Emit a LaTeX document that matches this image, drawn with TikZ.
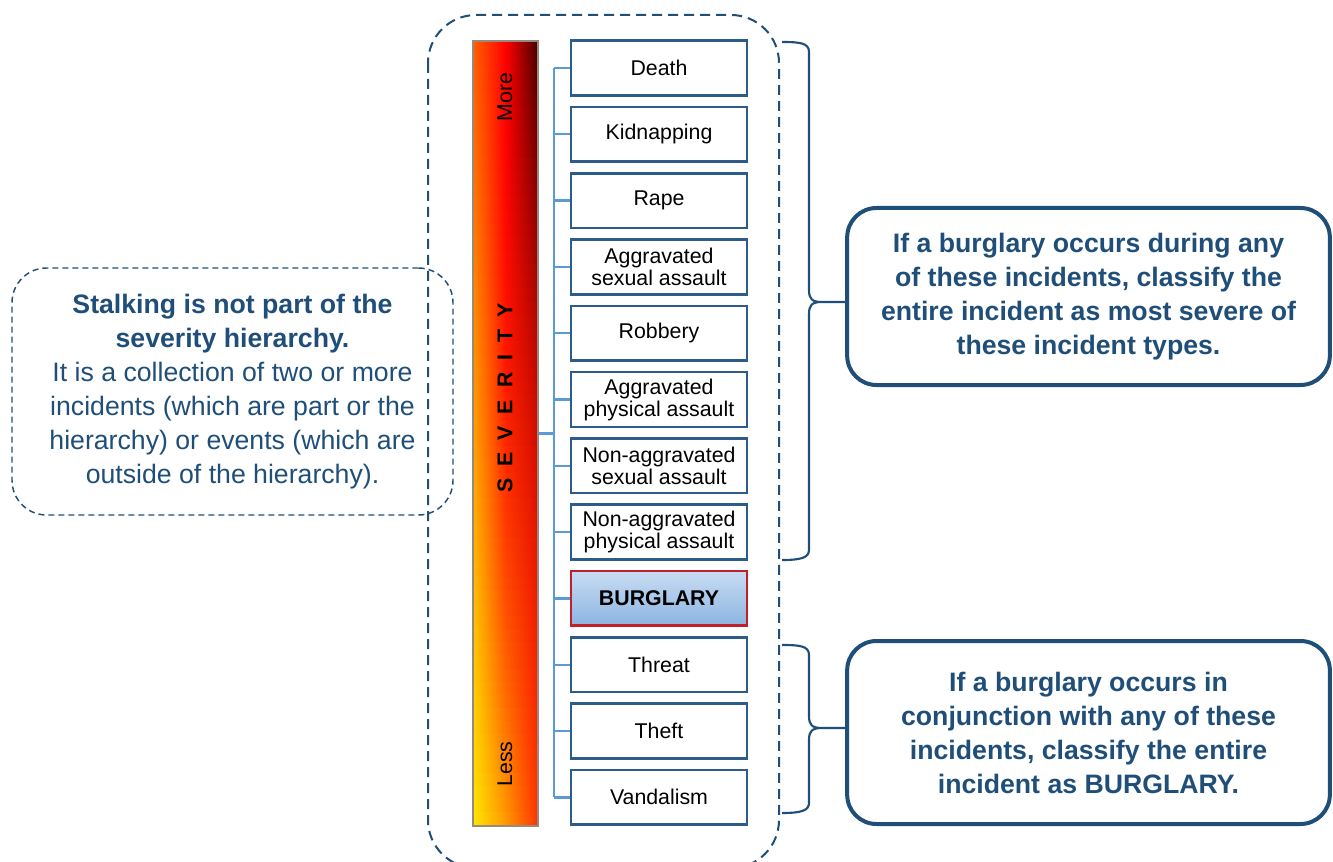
\documentclass[tikz,border=0pt]{standalone}
\usepackage{fontspec}
\setmainfont{Liberation Sans}
\usetikzlibrary{positioning}

\definecolor{navy}{RGB}{31,78,121}
\definecolor{boxedge}{RGB}{46,92,138}
\definecolor{treeblue}{RGB}{91,155,213}
\definecolor{burgtop}{RGB}{200,220,242}
\definecolor{burgbot}{RGB}{140,180,226}
\definecolor{burgred}{RGB}{192,32,44}
\definecolor{barrim}{RGB}{150,138,125}

\newcommand\sevgap{\hspace{9pt}}

\begin{document}
\begin{tikzpicture}[x=0.75pt,y=-0.75pt,
  incident/.style={draw=boxedge,line width=2pt,fill=white,minimum width=132pt,minimum height=41pt,inner sep=0pt,align=center,font=\fontsize{16}{16.5}\selectfont},
  burgbox/.style={incident,draw=burgred,top color=burgtop,bottom color=burgbot,font=\fontsize{16}{16.5}\selectfont\bfseries},
  treeline/.style={draw=treeblue,line width=1.8pt},
  callout/.style={draw=navy,line width=3pt,rounded corners=22pt,minimum width=362pt,align=center,text=navy,font=\fontsize{20}{25.5}\selectfont\bfseries},
  bracebar/.style={draw=navy,line width=1.6pt},
  barlabel/.style={rotate=90,font=\fontsize{16}{18}\selectfont}]

\useasboundingbox (0,0) rectangle (1333,862);

\foreach \i in {0,...,59}{
  \pgfmathsetmacro\t{\i/59}
  \pgfmathtruncatemacro\gl{95+135*\t}
  \pgfmathtruncatemacro\gm{150*\t*\t}
  \pgfmathtruncatemacro\rr{70+185*(1-(1-\t)*(1-\t))}
  \pgfmathtruncatemacro\gr{50*\t*\t}
  \definecolor{stripL}{RGB}{255,\gl,0}
  \definecolor{stripM}{RGB}{255,\gm,0}
  \definecolor{stripR}{RGB}{\rr,\gr,0}
  \shade[left color=stripL,right color=stripR,middle color=stripM] (473,{41+\i*13.0833}) rectangle (538,{41.6+(\i+1)*13.0833});
}
\node[draw=barrim,line width=0.8pt,minimum width=48.75pt,minimum height=588.75pt,inner sep=0pt] (bar) at (505.5,433.5) {};
\node[barlabel] (more) at (505,97) {More};
\node[barlabel] (less) at (505,764) {Less};
\node[barlabel,font=\fontsize{16}{18}\selectfont\bfseries] (sev) at (505,398) {S\sevgap E\sevgap V\sevgap E\sevgap R\sevgap I\sevgap T\sevgap Y};

\draw[navy,line width=1.5pt,dash pattern=on 7.5pt off 4.5pt,rounded corners=36pt] (428,15) rectangle (779,868);

\node[incident] (death) at (659,68) {Death};
\node[incident] (kidnap) at (659,134.3) {Kidnapping};
\node[incident] (rape) at (659,200.6) {Rape};
\node[incident] (aggsex) at (659,266.9) {Aggravated\\sexual assault};
\node[incident] (robbery) at (659,333.2) {Robbery};
\node[incident] (aggphys) at (659,399.5) {Aggravated\\physical assault};
\node[incident] (nonsex) at (659,465.8) {Non-aggravated\\sexual assault};
\node[incident] (nonphys) at (659,532.1) {Non-aggravated\\physical assault};
\node[burgbox] (burglary) at (659,598.4) {BURGLARY};
\node[incident] (threat) at (659,664.7) {Threat};
\node[incident] (theft) at (659,731) {Theft};
\node[incident] (vandal) at (659,797.3) {Vandalism};

\coordinate (hub) at (554,433.5);
\draw[treeline] (bar.east) -- (hub);
\draw[treeline] (death.west -| hub) -- (vandal.west -| hub);
\draw[treeline] (death.west -| hub) -- (death.west);
\draw[treeline] (kidnap.west -| hub) -- (kidnap.west);
\draw[treeline] (rape.west -| hub) -- (rape.west);
\draw[treeline] (aggsex.west -| hub) -- (aggsex.west);
\draw[treeline] (robbery.west -| hub) -- (robbery.west);
\draw[treeline] (aggphys.west -| hub) -- (aggphys.west);
\draw[treeline] (nonsex.west -| hub) -- (nonsex.west);
\draw[treeline] (nonphys.west -| hub) -- (nonphys.west);
\draw[treeline] (burglary.west -| hub) -- (burglary.west);
\draw[treeline] (threat.west -| hub) -- (threat.west);
\draw[treeline] (theft.west -| hub) -- (theft.west);
\draw[treeline] (vandal.west -| hub) -- (vandal.west);

\node[draw=navy,line width=1.1pt,dash pattern=on 4.5pt off 3pt,rounded corners=26pt,minimum width=330.75pt,minimum height=185.25pt,align=center,text=navy,font=\fontsize{20}{25.5}\selectfont] (stalk) at (232.5,391.5) {\textbf{Stalking is not part of the}\\\textbf{severity hierarchy.}\\It is a collection of two or more\\incidents (which are part or the\\hierarchy) or events (which are\\outside of the hierarchy).};

\node[callout,minimum height=132.75pt] (callA) at (1088.5,296.5) {If a burglary occurs during any\\of these incidents, classify the\\entire incident as most severe of\\these incident types.};
\node[callout,minimum height=137.25pt] (callB) at (1088.5,732.5) {If a burglary occurs in\\conjunction with any of these\\incidents, classify the entire\\incident as BURGLARY.};

\coordinate (tipA) at (callA.west |- 0,302);
\coordinate (tipB) at (callB.west |- 0,728);
\draw[bracebar] (782,42) .. controls (800,42) and (809,43) .. (809,52) -- (809,290) .. controls (809,299) and (812,302) .. (822,302) -- (tipA) -- (822,302) .. controls (812,302) and (809,305) .. (809,314) -- (809,550) .. controls (809,558) and (800,560) .. (782,560);
\draw[bracebar] (782,645) .. controls (800,645) and (809,646) .. (809,655) -- (809,716) .. controls (809,725) and (812,728) .. (822,728) -- (tipB) -- (822,728) .. controls (812,728) and (809,731) .. (809,740) -- (809,803) .. controls (809,811) and (800,813) .. (782,813);
\end{tikzpicture}
\end{document}
